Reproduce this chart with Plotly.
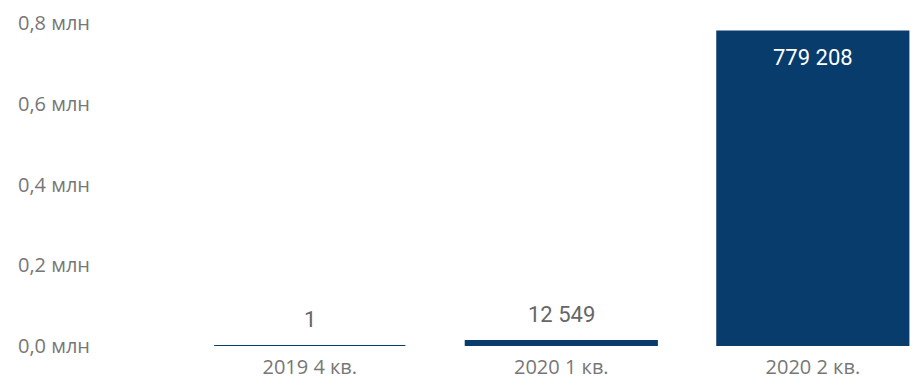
import plotly.graph_objects as go

categories = ["2019 4 кв.", "2020 1 кв.", "2020 2 кв."]
values = [1, 12549, 779208]
value_labels = ["1", "12 549", "779 208"]
tick_vals = [0, 200000, 400000, 600000, 800000]
tick_text = ["0,0 млн", "0,2 млн", "0,4 млн", "0,6 млн", "0,8 млн"]

bar_color = "#083c6c"
fig = go.Figure()
fig.add_trace(go.Bar(
    x=categories, y=values,
    marker=dict(color=bar_color, line=dict(color=bar_color, width=2)),
    width=0.76, hoverinfo="skip",
))

for c, v, t in zip(categories, values, value_labels):
    inside = v > 400000
    fig.add_annotation(
        x=c, y=v, text=t, showarrow=False,
        yanchor="top" if inside else "bottom",
        yshift=-12 if inside else 12,
        font=dict(family="Roboto, sans-serif", size=22,
                  color="#ffffff" if inside else "#666666"),
    )

fig.update_layout(
    width=922, height=387,
    margin=dict(l=176, r=8, t=15, b=49, autoexpand=False),
    paper_bgcolor="white", plot_bgcolor="white",
    showlegend=False,
    xaxis=dict(range=[-0.5, 2.434], showgrid=False, showline=False, zeroline=False,
               automargin=False, ticks="",
               tickfont=dict(family="Open Sans, sans-serif", size=20, color="#777777"),
               ticklabelstandoff=7),
    yaxis=dict(range=[0, 800000], tickvals=tick_vals, ticktext=tick_text,
               showgrid=False, showline=False, zeroline=False, ticks="", automargin=False,
               tickfont=dict(family="Open Sans, sans-serif", size=20, color="#777777"),
               ticklabelstandoff=93),
)

fig.write_html("out.html")
